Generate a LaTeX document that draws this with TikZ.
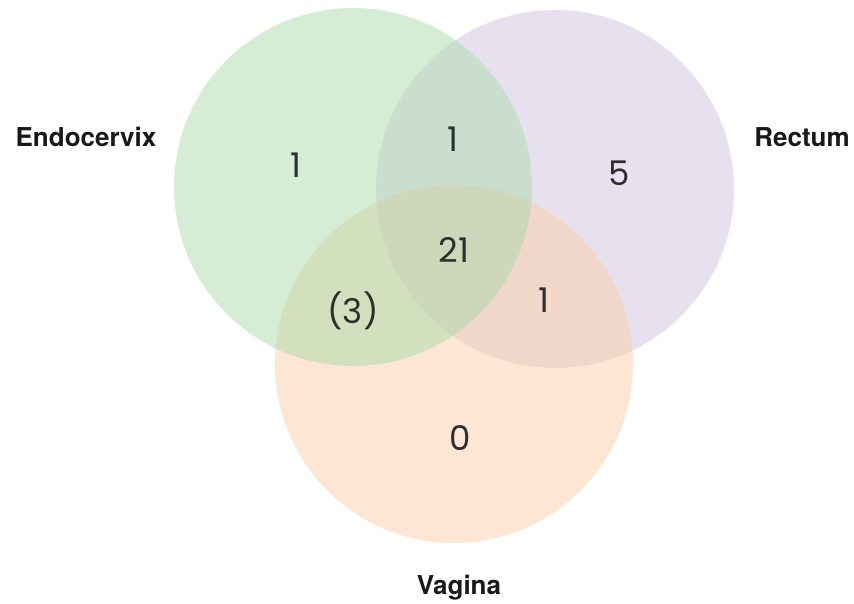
\documentclass[tikz,border=0pt]{standalone}
\usepackage{fontspec}
\setmainfont{TeX Gyre Heros}
\newfontfamily\numfont{Poppins}
\usetikzlibrary{positioning}
\definecolor{endocol}{HTML}{ABDBAB}
\definecolor{rectcol}{HTML}{CFC3DF}
\definecolor{vagcol}{HTML}{FBCDA7}
\tikzset{setlabel/.style={font=\fontsize{26}{28}\selectfont\bfseries, text=black!90, inner sep=0pt},
         count/.style={font=\fontsize{34}{36}\numfont, text=black!82, inner sep=0pt}}

\begin{document}
\begin{tikzpicture}[x=1pt,y=-1pt]
\useasboundingbox (0,0) rectangle (854,604);
\fill[rectcol,fill opacity=0.5] (555,189) circle (179);
\fill[vagcol,fill opacity=0.5] (454,364) circle (179);
\fill[endocol,fill opacity=0.5] (353,187) circle (179);
\node[setlabel] (endo) at (86,137) {Endocervix};
\node[setlabel] (rect) at (802,137) {Rectum};
\node[setlabel] (vag) at (459,588) {Vagina};
\node[count] (e) at (296,165) {1};
\node[count] (er) at (453,139) {1};
\node[count] (r) at (619,173) {5};
\node[count] (erv) at (454,250) {21};
\node[count] (ev) at (353,311) {(3)};
\node[count] (rv) at (544,300) {1};
\node[count] (v) at (460,438) {0};
\end{tikzpicture}
\end{document}
